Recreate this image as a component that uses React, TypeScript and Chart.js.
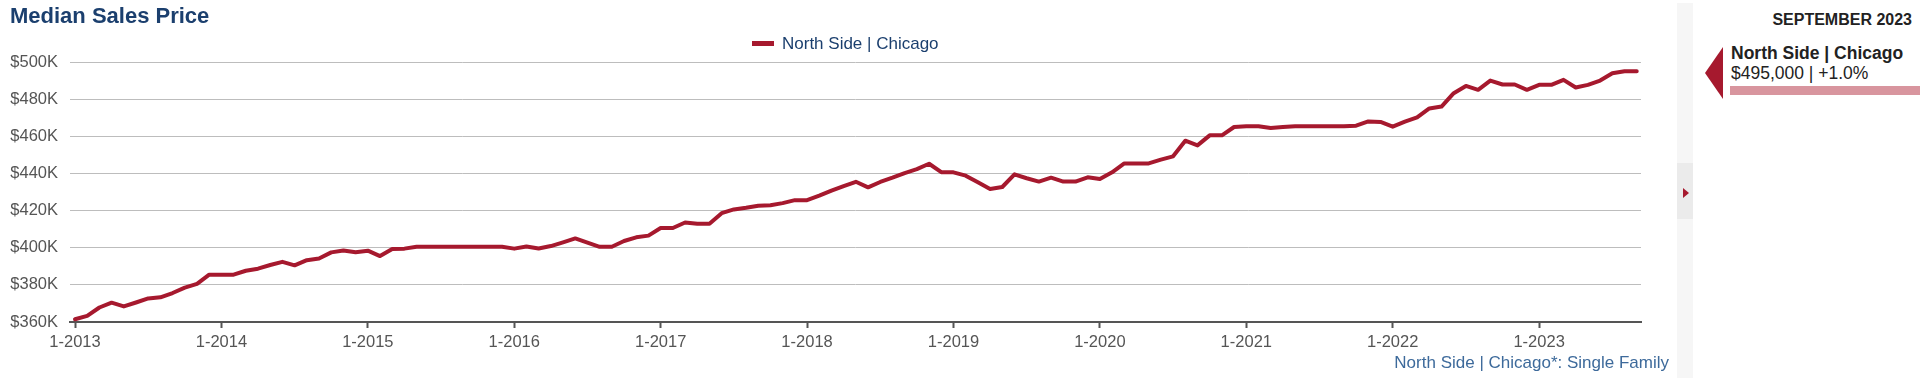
import React, { useEffect, useRef } from 'react';
import { Chart, registerables } from 'chart.js';

Chart.register(...registerables);

const TITLE = 'Median Sales Price';
const SERIES_NAME = 'North Side | Chicago';
const FOOTNOTE = 'North Side | Chicago*: Single Family';
const PERIOD = 'SEPTEMBER 2023';
const CURRENT_VALUE = '$495,000 | +1.0%';

// x tick labels, one per January (month index 0, 12, 24, ...)
const xTickLabels = ['1-2013', '1-2014', '1-2015', '1-2016', '1-2017', '1-2018', '1-2019', '1-2020', '1-2021', '1-2022', '1-2023'];
const yTickValues = [360000, 380000, 400000, 420000, 440000, 460000, 480000, 500000];

// Monthly median sales price (thousands of $), Jan 2013 .. Sep 2023
const medianPriceK = [
  361.5, 363.3, 367.8, 370.4, 368.4, 370.5, 372.7, 373.3, 375.6, 378.5, 380.5, 385.5,
  385.5, 385.5, 387.6, 388.7, 390.7, 392.4, 390.5, 393.3, 394.2, 397.5, 398.5, 397.6,
  398.4, 395.5, 399.3, 399.5, 400.5, 400.5, 400.5, 400.5, 400.5, 400.5, 400.5, 400.5,
  399.5, 400.7, 399.6, 400.9, 402.9, 405.0, 402.7, 400.5, 400.5, 403.6, 405.6, 406.5,
  410.6, 410.6, 413.6, 412.9, 412.9, 418.6, 420.6, 421.5, 422.6, 422.9, 424.0, 425.6,
  425.6, 428.0, 430.7, 433.2, 435.5, 432.5, 435.4, 437.7, 440.2, 442.3, 445.2, 440.7,
  440.6, 438.8, 435.2, 431.6, 432.7, 439.5, 437.4, 435.6, 437.7, 435.6, 435.6, 437.9,
  437.0, 440.6, 445.4, 445.4, 445.4, 447.4, 449.2, 457.6, 455.1, 460.5, 460.5, 465.0,
  465.4, 465.4, 464.5, 465.0, 465.4, 465.4, 465.4, 465.4, 465.4, 465.7, 468.0, 467.7,
  465.2, 467.9, 470.2, 475.0, 476.0, 483.2, 487.1, 485.0, 490.0, 487.9, 487.9, 485.0,
  487.7, 487.7, 490.4, 486.3, 487.7, 490.0, 493.9, 495.0, 495.0,
];

const RED = '#a6192e';
const NAVY = '#1b3f6e';
const FONT = 'Arial, "Liberation Sans", sans-serif';

export default function App() {
  const canvasRef = useRef<HTMLCanvasElement | null>(null);

  useEffect(() => {
    const canvas = canvasRef.current;
    if (!canvas) return;
    const chart = new Chart(canvas, {
      type: 'line',
      data: {
        datasets: [
          {
            label: SERIES_NAME,
            data: medianPriceK.map((v, i) => ({ x: i, y: v * 1000 })),
            borderColor: RED,
            borderWidth: 4,
            pointRadius: 0,
            tension: 0,
            fill: false,
            borderJoinStyle: 'round',
            borderCapStyle: 'round',
          },
        ],
      },
      options: {
        animation: false,
        responsive: false,
        devicePixelRatio: 1,
        layout: { padding: { top: 62, left: 8, right: 19, bottom: 0 } },
        plugins: { legend: { display: false }, tooltip: { enabled: false } },
        scales: {
          x: {
            type: 'linear',
            min: -0.41,
            max: 128.35,
            afterBuildTicks: (s: any) => {
              s.ticks = xTickLabels.map((_, k) => ({ value: k * 12 }));
            },
            afterFit: (s: any) => {
              s.height = 59;
            },
            ticks: {
              callback: (v: any) => xTickLabels[Math.round(Number(v) / 12)] ?? '',
              color: '#555',
              font: { family: FONT, size: 16.5 },
              padding: 5,
              maxRotation: 0,
              autoSkip: false,
            },
            grid: { drawOnChartArea: false, drawTicks: true, tickLength: 6, tickColor: '#555', tickWidth: 2 },
            border: { display: true, color: '#555', width: 2 },
          },
          y: {
            min: 360000,
            max: 500000,
            afterBuildTicks: (s: any) => {
              s.ticks = yTickValues.map((v) => ({ value: v }));
            },
            afterFit: (s: any) => {
              s.width = 62;
            },
            ticks: {
              callback: (v: any) => '$' + Math.round(Number(v) / 1000) + 'K',
              color: '#555',
              font: { family: FONT, size: 16.5 },
              padding: 12,
            },
            grid: {
              color: (ctx: any) => (ctx.tick && ctx.tick.value === 360000 ? 'rgba(0,0,0,0)' : '#bdbdbd'),
              lineWidth: 1,
              drawTicks: false,
            },
            border: { display: false },
          },
        },
      },
    } as any);
    return () => chart.destroy();
  }, []);

  const abs = (s: React.CSSProperties): React.CSSProperties => ({ position: 'absolute', whiteSpace: 'nowrap', fontFamily: FONT, ...s });

  return (
    <div style={{ position: 'absolute', left: 0, top: 0, width: 1920, height: 381, overflow: 'hidden', background: '#fff' }}>
      <canvas ref={canvasRef} width={1660} height={381} style={{ position: 'absolute', left: 0, top: 0, width: 1660, height: 381 }} />
      <div style={abs({ left: 10, top: 5, fontSize: 22, lineHeight: '22px', fontWeight: 'bold', color: NAVY })}>{TITLE}</div>
      <div style={abs({ left: 752, top: 41, width: 22, height: 5, background: RED })} />
      <div style={abs({ left: 782, top: 35, fontSize: 17, lineHeight: '17px', color: NAVY })}>{SERIES_NAME}</div>
      <div style={abs({ right: 251, top: 354, fontSize: 17, lineHeight: '17px', color: '#3d6a9b' })}>{FOOTNOTE}</div>

      <div style={abs({ left: 1677, top: 3, width: 16, height: 375, background: '#f6f6f6' })} />
      <div style={abs({ left: 1677, top: 163, width: 16, height: 56, background: '#ebebeb' })} />
      <div style={abs({ left: 1683, top: 188, width: 0, height: 0, borderTop: '5px solid transparent', borderBottom: '5px solid transparent', borderLeft: '6px solid ' + RED })} />

      <div style={abs({ right: 8, top: 11.5, fontSize: 16, lineHeight: '16px', fontWeight: 'bold', color: '#222' })}>{PERIOD}</div>
      <div style={abs({ left: 1705, top: 47, width: 0, height: 0, borderTop: '26px solid transparent', borderBottom: '26px solid transparent', borderRight: '18px solid ' + RED })} />
      <div style={abs({ left: 1731, top: 45, fontSize: 17.5, lineHeight: '17.5px', fontWeight: 'bold', color: '#222' })}>{SERIES_NAME}</div>
      <div style={abs({ left: 1731, top: 65, fontSize: 17.5, lineHeight: '17.5px', color: '#222' })}>{CURRENT_VALUE}</div>
      <div style={abs({ left: 1730, top: 86, width: 190, height: 9, background: '#d8959e' })} />
    </div>
  );
}
